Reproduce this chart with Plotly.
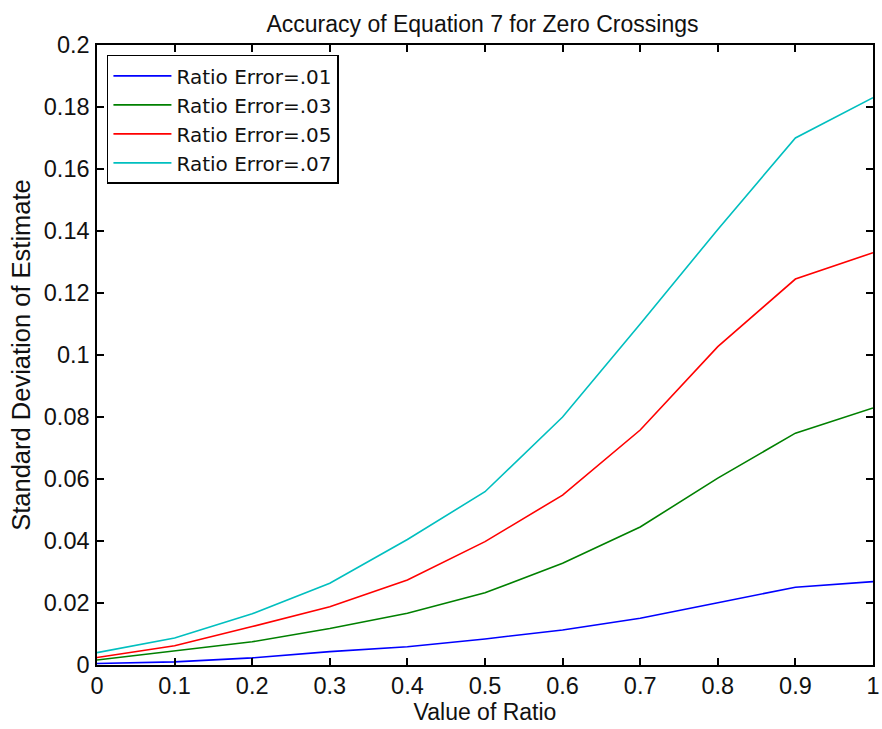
import plotly.graph_objects as go

x_vals = [0, 0.1, 0.2, 0.3, 0.4, 0.5, 0.6, 0.7, 0.8, 0.9, 1.0]
err_01 = [0.0005, 0.0010, 0.0023, 0.0043, 0.0059, 0.0084, 0.0113, 0.0151, 0.0201, 0.0251, 0.0269]
err_03 = [0.0016, 0.0046, 0.0075, 0.0118, 0.0167, 0.0233, 0.0328, 0.0445, 0.0603, 0.0748, 0.0829]
err_05 = [0.0024, 0.0062, 0.0124, 0.0188, 0.0274, 0.0398, 0.0548, 0.0758, 0.1027, 0.1245, 0.1330]
err_07 = [0.0040, 0.0087, 0.0165, 0.0264, 0.0405, 0.0559, 0.0800, 0.1100, 0.1405, 0.1700, 0.1830]
names = ["Ratio Error=.01", "Ratio Error=.03", "Ratio Error=.05", "Ratio Error=.07"]
colors = ["#0000ff", "#008000", "#ff0000", "#00bfbf"]
x_ticks = [0, 0.1, 0.2, 0.3, 0.4, 0.5, 0.6, 0.7, 0.8, 0.9, 1]
x_tick_text = ["0", "0.1", "0.2", "0.3", "0.4", "0.5", "0.6", "0.7", "0.8", "0.9", "1"]
y_ticks = [0, 0.02, 0.04, 0.06, 0.08, 0.1, 0.12, 0.14, 0.16, 0.18, 0.2]
y_tick_text = ["0", "0.02", "0.04", "0.06", "0.08", "0.1", "0.12", "0.14", "0.16", "0.18", "0.2"]

fig = go.Figure()
for ys, nm, c in zip([err_01, err_03, err_05, err_07], names, colors):
    fig.add_trace(go.Scatter(x=x_vals, y=ys, mode="lines", name=nm,
                             line=dict(color=c, width=1.6)))

FAM = "Liberation Sans, Arial, sans-serif"
INK = "#111"
tick_font = dict(family=FAM, size=23.5, color=INK)
axis_common = dict(showgrid=False, zeroline=False, showline=True, linecolor="black",
                   linewidth=1.5, mirror="ticks", ticks="inside", ticklen=7,
                   tickcolor="black", tickwidth=1.5, tickfont=tick_font,
                   ticklabeloverflow="allow")
fig.update_layout(
    width=882, height=729,
    margin=dict(l=97, r=2, t=45, b=64),
    paper_bgcolor="white", plot_bgcolor="white",
    font=dict(family=FAM, size=23, color=INK),
    title=dict(text="Accuracy of Equation 7 for Zero Crossings", x=0.547, xref="container",
               xanchor="center", y=0.967, yref="container", yanchor="middle",
               font=dict(family=FAM, size=23, color=INK)),
    xaxis=dict(range=[0, 1], tickvals=x_ticks, ticktext=x_tick_text,
               ticklabelstandoff=-1,
               title=dict(text="Value of Ratio", standoff=4,
                          font=dict(family=FAM, size=23, color=INK)), **axis_common),
    yaxis=dict(range=[0, 0.2], tickvals=y_ticks, ticktext=y_tick_text,
               ticklabelstandoff=1,
               title=dict(text="Standard Deviation of Estimate", standoff=6,
                          font=dict(family=FAM, size=25.5, color=INK)), **axis_common),
    legend=dict(x=0.0128, y=0.984, xanchor="left", yanchor="top",
                bordercolor="black", borderwidth=1.5, bgcolor="white",
                font=dict(family="DejaVu Sans, sans-serif", size=20, color=INK),
                tracegroupgap=0, itemwidth=58),
    showlegend=True,
)
fig.write_html("out.html", config={"displayModeBar": False},
               post_script="document.body.style.margin='0';document.body.style.overflow='hidden';")
